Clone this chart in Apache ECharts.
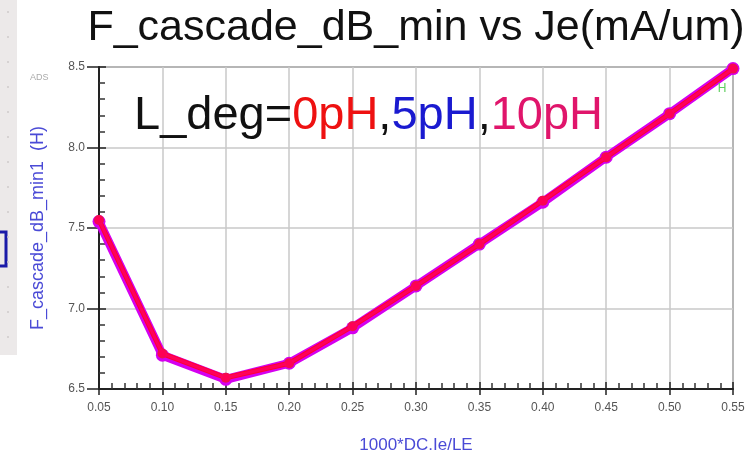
<!DOCTYPE html>
<html>
<head>
<meta charset="utf-8">
<script src="https://cdn.jsdelivr.net/npm/echarts@6/dist/echarts.min.js"></script>
<style>html,body{margin:0;padding:0;background:#fff}#c{width:751px;height:459px}</style>
</head>
<body>
<div id="c"></div>
<script>
var xValues = [0.05, 0.10, 0.15, 0.20, 0.25, 0.30, 0.35, 0.40, 0.45, 0.50, 0.55];
var nf_0pH  = [7.55, 6.72, 6.57, 6.66, 6.89, 7.14, 7.40, 7.67, 7.94, 8.21, 8.49];
var nf_5pH  = [7.54, 6.71, 6.56, 6.66, 6.88, 7.14, 7.40, 7.66, 7.94, 8.21, 8.49];
var nf_10pH = [7.55, 6.72, 6.57, 6.66, 6.89, 7.14, 7.40, 7.67, 7.94, 8.21, 8.49];
var xTicks = [0.05, 0.55, 0.05];
var yTicks = [6.5, 8.5, 0.5];

function pairs(vals, lastLabel) {
  return xValues.map(function (x, i) {
    var d = { value: [x, vals[i]] };
    if (lastLabel && i === xValues.length - 1) {
      d.label = { show: true, formatter: 'H', position: 'inside', offset: [-11, 20],
        color: '#5fcf5f', fontSize: 12, fontFamily: 'Liberation Sans' };
    }
    return d;
  });
}

var chart = echarts.init(document.getElementById('c'), null, { renderer: 'canvas' });
var dots = [];
for (var k = 0; k < 14; k++) {
  dots.push({ type: 'circle', shape: { cx: 8, cy: 12 + k * 25, r: 1 }, style: { fill: '#cfcaca' }, silent: true });
}
var big = { fontFamily: 'Liberation Sans', fontSize: 47, fontWeight: 'normal' };
chart.setOption({
  animation: false,
  backgroundColor: '#fff',
  title: [
    { text: 'F_cascade_dB_min vs Je(mA/um)', left: 411, top: 2, textAlign: 'center',
      textStyle: { fontFamily: 'Liberation Sans', fontSize: 43, fontWeight: 'normal', color: '#111' } },
    { text: '{k|L_deg=}{r|0pH}{k|,}{b|5pH}{k|,}{m|10pH}', left: 129, top: 88,
      textStyle: { fontWeight: 'normal', rich: {
        k: Object.assign({ color: '#111' }, big),
        r: Object.assign({ color: '#ee1111' }, big),
        b: Object.assign({ color: '#1a1ad0' }, big),
        m: Object.assign({ color: '#e0156b' }, big) } } }
  ],
  graphic: [
    { type: 'rect', shape: { x: 0, y: 0, width: 17, height: 355 }, style: { fill: '#ece9e9' }, silent: true, z: -1 },
    { type: 'polyline', shape: { points: [[0, 232], [6, 232], [6, 266], [0, 266]] }, style: { stroke: '#1a1aa8', lineWidth: 3, fill: null }, silent: true },
    { type: 'text', left: 30, top: 73, style: { text: 'ADS', fill: '#aaa', fontSize: 9, fontFamily: 'Liberation Sans' }, silent: true }
  ].concat(dots),
  grid: { left: 99, right: 18, top: 67, bottom: 66, show: true, borderColor: '#555', borderWidth: 1.5 },
  xAxis: [{
    type: 'value', min: xTicks[0], max: xTicks[1], interval: xTicks[2],
    name: '1000*DC.Ie/LE', nameLocation: 'middle', nameGap: 48,
    nameTextStyle: { color: '#4a4ad6', fontSize: 17, fontFamily: 'Liberation Sans' },
    axisLine: { lineStyle: { color: '#222', width: 2 } },
    axisTick: { inside: true, length: 7, lineStyle: { color: '#222', width: 1.5 } },
    minorTick: { show: true, splitNumber: 5, length: 6, lineStyle: { color: '#333', width: 1.5 } },
    axisLabel: { formatter: function (v) { return v.toFixed(2); }, color: '#555', fontSize: 12,
      fontFamily: 'Liberation Sans', margin: 13 },
    splitLine: { lineStyle: { color: '#c8c8c8', width: 1.5 } }
  }, {
    type: 'value', min: xTicks[0], max: xTicks[1], interval: xTicks[2], position: 'bottom',
    axisLine: { show: false }, axisLabel: { show: false }, splitLine: { show: false },
    axisTick: { show: true, inside: false, length: 6, lineStyle: { color: '#222', width: 1.5 } }
  }],
  yAxis: [{
    type: 'value', min: yTicks[0], max: yTicks[1], interval: yTicks[2],
    name: 'F_cascade_dB_min1  (H)', nameLocation: 'middle', nameGap: 52,
    nameTextStyle: { color: '#4a4ad6', fontSize: 18, fontFamily: 'Liberation Sans' },
    axisLine: { lineStyle: { color: '#222', width: 2 } },
    axisTick: { inside: true, length: 7, lineStyle: { color: '#222', width: 1.5 } },
    minorTick: { show: true, splitNumber: 5, length: 6, lineStyle: { color: '#333', width: 1.5 } },
    axisLabel: { formatter: function (v) { return v.toFixed(1); }, color: '#555', fontSize: 12,
      fontFamily: 'Liberation Sans', margin: 14 },
    splitLine: { lineStyle: { color: '#c8c8c8', width: 1.5 } }
  }, {
    type: 'value', min: yTicks[0], max: yTicks[1], interval: yTicks[2], position: 'left',
    axisLine: { show: false }, axisLabel: { show: false }, splitLine: { show: false },
    axisTick: { show: true, inside: false, length: 12, lineStyle: { color: '#222', width: 1.5 } }
  }],
  series: [
    { name: '5pH', type: 'line', data: pairs(nf_5pH), symbol: 'circle', symbolSize: 13,
      lineStyle: { color: '#d400f0', width: 9 }, itemStyle: { color: '#d400f0' }, z: 2 },
    { name: '0pH', type: 'line', data: pairs(nf_0pH), symbol: 'circle', symbolSize: 10,
      lineStyle: { color: '#ff0030', width: 5 }, itemStyle: { color: '#f0104a' }, z: 3 },
    { name: '10pH', type: 'line', data: pairs(nf_10pH, true), symbol: 'circle', symbolSize: 7,
      lineStyle: { color: '#ff0066', width: 3, opacity: 0.8 }, itemStyle: { color: '#ff0055' }, z: 4 }
  ]
});
</script>
</body>
</html>
